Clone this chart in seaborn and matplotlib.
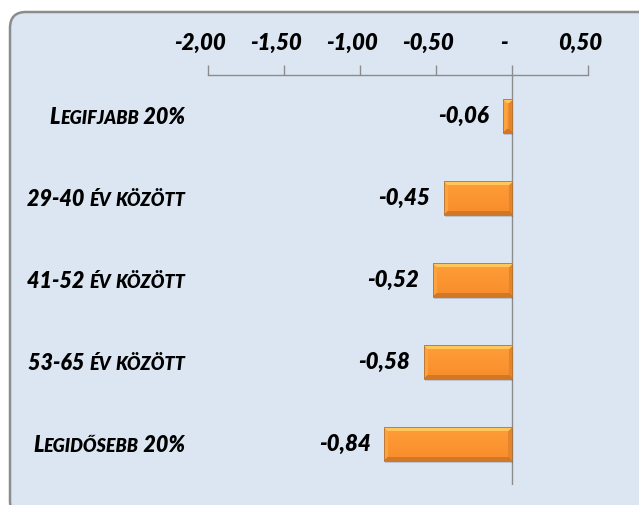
import numpy as np
import pandas as pd
import seaborn as sns
import matplotlib
matplotlib.use("Agg")
import matplotlib.pyplot as plt
import matplotlib.transforms as mtransforms
from matplotlib.patches import FancyBboxPatch, Rectangle

categories = ["Legifjabb 20%", "29-40 év között", "41-52 év között",
              "53-65 év között", "Legidősebb 20%"]
values = [-0.06, -0.45, -0.52, -0.58, -0.84]
xticks = [-2.0, -1.5, -1.0, -0.5, 0.0, 0.5]


def hu(v):
    # excel accounting style: comma decimal, zero shown as a dash
    return "-" if v == 0 else f"{v:.2f}".replace(".", ",")


def smallcaps_runs(s):
    runs = []
    for ch in s:
        small = ch.islower()
        if runs and runs[-1][1] == small:
            runs[-1][0] += ch.upper()
        else:
            runs.append([ch.upper(), small])
    return runs


def bevel_image(w, h, t=4):
    r = np.arange(h)[:, None] * np.ones((1, w))
    c = np.ones((h, 1)) * np.arange(w)[None, :]
    frac = (r / max(h - 1, 1))[..., None]
    top = np.array([1.00, 0.62, 0.22])
    bot = np.array([0.97, 0.55, 0.17])
    img = top * (1 - frac) + bot * frac
    d = np.stack([r, h - 1 - r, c, w - 1 - c])
    m = d.min(axis=0)
    which = d.argmin(axis=0)
    facet = [np.array([1.00, 0.78, 0.36]), np.array([0.82, 0.47, 0.15]),
             np.array([0.99, 0.64, 0.24]), np.array([0.90, 0.52, 0.17])]
    for k in range(4):
        mask = (m < t) & (which == k)
        img[mask] = facet[k]
    return np.clip(img, 0, 1)


sns.set_style("white")
plt.rcParams["font.family"] = ["Lato", "DejaVu Sans"]

W, H = 639, 505
fig = plt.figure(figsize=(W / 100, H / 100), dpi=100)
fig.patch.set_facecolor("white")

# rounded panel behind the chart
panel = FancyBboxPatch((10, -12), 650, 505, boxstyle="round,pad=0,rounding_size=16",
                       facecolor="#DCE6F2", edgecolor="#8C8C8C", linewidth=1.8,
                       transform=mtransforms.IdentityTransform(), zorder=-10)
fig.add_artist(panel)

ax = fig.add_axes([208 / W, 20 / H, 380 / W, 410 / H])
ax.set_facecolor("none")

df = pd.DataFrame({"group": categories, "value": values})
sns.barplot(data=df, x="value", y="group", orient="h", width=0.41,
            color="#F7922A", ax=ax)

ax.set_xlim(-2, 0.5)
ax.set_ylim(len(categories) - 0.5, -0.5)

grey = "#8C8C8C"
ax.axvline(0, color=grey, lw=1.0, zorder=1)
for s in ["bottom", "left", "right"]:
    ax.spines[s].set_visible(False)
ax.spines["top"].set_color(grey)
ax.spines["top"].set_linewidth(1.0)

ax.xaxis.tick_top()
ax.set_xticks(xticks)
ax.set_xticklabels([hu(v) for v in xticks])
ax.tick_params(axis="x", which="major", direction="out", length=7, width=1.0,
               color=grey, pad=8, labelsize=16, labelcolor="black")
for lbl in ax.get_xticklabels():
    lbl.set_fontweight("heavy")
    lbl.set_fontstyle("italic")
ax.set_yticks([])
ax.set_xlabel("")
ax.set_ylabel("")

shift = mtransforms.ScaledTranslation(-8 / 100, 0, fig.dpi_scale_trans)
for t in ax.xaxis.get_major_ticks():
    t.label2.set_transform(t.label2.get_transform() + shift)

# bevelled orange bars
renderer = fig.canvas.get_renderer()
for p in list(ax.patches):
    bb = p.get_bbox()
    x0, x1 = sorted([bb.x0, bb.x1])
    y0, y1 = sorted([bb.y0, bb.y1])
    ext = p.get_window_extent(renderer)
    wpx = max(int(round(ext.width)), 2)
    hpx = max(int(round(ext.height)), 2)
    shadow = Rectangle((x0, y0), x1 - x0, y1 - y0, facecolor=(0, 0, 0, 0.14),
                       edgecolor="none", zorder=1.5,
                       transform=ax.transData + mtransforms.ScaledTranslation(1 / 100, -2.5 / 100, fig.dpi_scale_trans))
    ax.add_patch(shadow)
    im = ax.imshow(bevel_image(wpx, hpx), extent=(x0, x1, y1, y0), aspect="auto",
                   interpolation="bilinear", zorder=2)
    im.set_clip_path(p)
    p.set_facecolor("none")
    p.set_edgecolor("#B07438")
    p.set_linewidth(0.6)
    p.set_zorder(3)

ax.set_xlim(-2, 0.5)
ax.set_ylim(len(categories) - 0.5, -0.5)

# value labels
for i, v in enumerate(values):
    ax.annotate(hu(v), xy=(v, i), xytext=(-10, 0), textcoords="offset points",
                ha="right", va="center", fontsize=16, fontweight="heavy",
                fontstyle="italic", color="black", zorder=4)

# category labels in small caps, right aligned left of the axis
big, small = 15.5, 13
base = mtransforms.blended_transform_factory(ax.transAxes, ax.transData)
for i, name in enumerate(categories):
    pieces = []
    for txt, is_small in smallcaps_runs(name):
        tt = ax.text(0, i, txt, fontsize=small if is_small else big,
                     fontweight="heavy", fontstyle="italic", color="black",
                     ha="left", va="baseline", transform=base, clip_on=False)
        pieces.append(tt)
    widths = [tt.get_window_extent(renderer).width for tt in pieces]
    start = -23 - sum(widths)
    dy = -big * 100 / 72 * 0.36
    for tt, w in zip(pieces, widths):
        tt.set_transform(base + mtransforms.ScaledTranslation(start / 100, dy / 100, fig.dpi_scale_trans))
        start += w

fig.savefig("out.png", dpi=100, facecolor=fig.get_facecolor())
